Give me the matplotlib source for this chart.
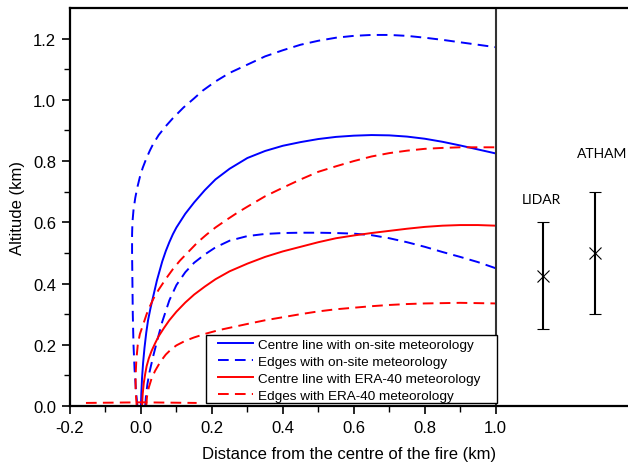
import matplotlib
matplotlib.use("Agg")
import matplotlib.pyplot as plt
from matplotlib.patches import Rectangle

# ---- data ----
onsite_centre_x = [0.0, 0.001, 0.003, 0.006, 0.01, 0.015, 0.02, 0.027, 0.035, 0.045, 0.06, 0.07, 0.08, 0.09, 0.1, 0.125, 0.15,
                   0.18, 0.21, 0.25, 0.3, 0.35, 0.4, 0.45, 0.5, 0.55, 0.6, 0.65, 0.7, 0.75, 0.8, 0.85, 0.9, 0.95, 1.0]
onsite_centre_y = [0.0, 0.04, 0.09, 0.14, 0.19, 0.24, 0.28, 0.32, 0.36, 0.41, 0.472, 0.506, 0.535, 0.561, 0.583, 0.628, 0.665,
                   0.705, 0.74, 0.775, 0.81, 0.833, 0.850, 0.862, 0.872, 0.879, 0.883, 0.885, 0.884, 0.880, 0.873, 0.863,
                   0.851, 0.838, 0.825]

onsite_upper_x = [-0.010, -0.014, -0.018, -0.021, -0.023, -0.024, -0.025, -0.025, -0.024, -0.021, -0.016, -0.010, -0.003,
                  0.005, 0.015, 0.025, 0.034, 0.05, 0.07, 0.09, 0.12, 0.15, 0.174, 0.21, 0.25, 0.3, 0.35, 0.4, 0.45, 0.5,
                  0.55, 0.6, 0.65, 0.7, 0.75, 0.8, 0.85, 0.9, 0.95, 1.0]
onsite_upper_y = [0.0, 0.05, 0.12, 0.2, 0.3, 0.4, 0.5, 0.56, 0.6, 0.64, 0.68, 0.715, 0.748,
                  0.778, 0.808, 0.834, 0.855, 0.885, 0.914, 0.94, 0.975, 1.005, 1.03, 1.06, 1.088, 1.115, 1.142, 1.162, 1.18,
                  1.193, 1.203, 1.209, 1.212, 1.212, 1.209, 1.203, 1.196, 1.188, 1.18, 1.172]

onsite_lower_x = [0.012, 0.014, 0.018, 0.024, 0.035, 0.045, 0.06, 0.08, 0.1, 0.125, 0.15, 0.18, 0.21, 0.25, 0.3, 0.35, 0.4,
                  0.45, 0.5, 0.55, 0.6, 0.65, 0.7, 0.75, 0.8, 0.85, 0.9, 0.95, 1.0]
onsite_lower_y = [0.0, 0.03, 0.07, 0.11, 0.165, 0.21, 0.275, 0.345, 0.395, 0.437, 0.468, 0.495, 0.518, 0.54, 0.555, 0.562, 0.565,
                  0.566, 0.566, 0.565, 0.563, 0.558, 0.548, 0.535, 0.52, 0.503, 0.487, 0.47, 0.45]

era_centre_x = [0.003, 0.005, 0.008, 0.012, 0.016, 0.022, 0.03, 0.04, 0.05, 0.065, 0.08, 0.1, 0.125, 0.15, 0.18, 0.21, 0.25,
                0.3, 0.35, 0.4, 0.45, 0.5, 0.55, 0.6, 0.65, 0.7, 0.75, 0.8, 0.85, 0.9, 0.95, 1.0]
era_centre_y = [0.0, 0.04, 0.075, 0.105, 0.13, 0.155, 0.18, 0.205, 0.228, 0.255, 0.28, 0.308, 0.338, 0.364, 0.39, 0.414, 0.44,
                0.465, 0.487, 0.505, 0.52, 0.535, 0.548, 0.557, 0.565, 0.572, 0.579, 0.585, 0.589, 0.591, 0.591, 0.589]

era_upper_x = [-0.012, -0.015, -0.015, -0.013, -0.009, -0.003, 0.005, 0.016, 0.025, 0.035, 0.05, 0.07, 0.09, 0.11, 0.135,
               0.16, 0.185, 0.21, 0.24, 0.27, 0.3, 0.35, 0.4, 0.45, 0.5, 0.55, 0.6, 0.65, 0.7, 0.75, 0.8, 0.85, 0.9, 0.95, 1.0]
era_upper_y = [0.0, 0.05, 0.1, 0.15, 0.2, 0.235, 0.262, 0.3, 0.325, 0.35, 0.38, 0.415, 0.447, 0.475, 0.505,
               0.535, 0.56, 0.583, 0.607, 0.63, 0.651, 0.685, 0.713, 0.74, 0.765, 0.783, 0.8, 0.815, 0.826, 0.834, 0.84, 0.843,
               0.845, 0.845, 0.845]

era_lower_x = [0.015, 0.017, 0.022, 0.03, 0.04, 0.055, 0.07, 0.085, 0.1, 0.125, 0.15, 0.185, 0.22, 0.26, 0.3, 0.35, 0.4,
               0.45, 0.5, 0.55, 0.6, 0.65, 0.7, 0.75, 0.8, 0.85, 0.9, 0.95, 1.0]
era_lower_y = [0.0, 0.03, 0.06, 0.09, 0.115, 0.145, 0.168, 0.185, 0.198, 0.213, 0.224, 0.237, 0.248, 0.258, 0.268, 0.28, 0.29,
               0.3, 0.309, 0.316, 0.321, 0.326, 0.33, 0.333, 0.335, 0.336, 0.337, 0.336, 0.335]

era_ground_x = [-0.155, 0.0, 0.157]
era_ground_y = [0.010, 0.012, 0.010]

obs_names = ["LIDAR", "ATHAM"]
obs_x = [1.133, 1.28]
obs_y = [0.425, 0.50]
obs_low = [0.25, 0.30]
obs_high = [0.60, 0.70]
obs_label_y = [0.677, 0.827]
obs_label_dx = [-0.005, 0.02]

legend_labels = ["Centre line with on-site meteorology",
                 "Edges with on-site meteorology",
                 "Centre line with ERA-40 meteorology",
                 "Edges with ERA-40 meteorology"]

x_major = [-0.2, 0.0, 0.2, 0.4, 0.6, 0.8, 1.0]
x_minor = [-0.1, 0.1, 0.3, 0.5, 0.7, 0.9]
y_major = [0.0, 0.2, 0.4, 0.6, 0.8, 1.0, 1.2]
y_minor = [0.1, 0.3, 0.5, 0.7, 0.9, 1.1]

# ---- plotting ----
plt.rcParams['font.family'] = ['Liberation Sans', 'DejaVu Sans']
fig = plt.figure(figsize=(6.28, 4.64), dpi=100)
ax = fig.add_axes([70/628, 57/464, 558/628, 398/464])

lw = 1.4
dash = (0, (5.5, 3.2))
blue = '#0000ff'
red = '#ff0000'

l1, = ax.plot(onsite_centre_x, onsite_centre_y, color=blue, lw=lw)
l2, = ax.plot(onsite_upper_x, onsite_upper_y, color=blue, lw=lw, linestyle=dash)
ax.plot(onsite_lower_x, onsite_lower_y, color=blue, lw=lw, linestyle=dash)
l3, = ax.plot(era_centre_x, era_centre_y, color=red, lw=lw)
l4, = ax.plot(era_upper_x, era_upper_y, color=red, lw=lw, linestyle=dash)
ax.plot(era_lower_x, era_lower_y, color=red, lw=lw, linestyle=dash)
ax.plot(era_ground_x, era_ground_y, color=red, lw=lw, linestyle=dash)

# separator at x = 1.0
ax.axvline(1.0, color='#333333', lw=1.5)

# observations
for i in range(len(obs_names)):
    ax.errorbar([obs_x[i]], [obs_y[i]],
                yerr=[[obs_y[i] - obs_low[i]], [obs_high[i] - obs_y[i]]],
                fmt='x', color='black', ecolor='black', elinewidth=1.5,
                capsize=4, capthick=1.5, markersize=8, markeredgewidth=0.8)
    ax.text(obs_x[i] + obs_label_dx[i], obs_label_y[i], obs_names[i],
            ha='center', va='center', fontsize=10, family=['Lato', 'DejaVu Sans'])

ax.set_xlim(-0.2, 1.373)
ax.set_ylim(0.0, 1.3)
ax.set_xticks(x_major)
ax.set_xticklabels([f"{v:.1f}" for v in x_major])
ax.set_xticks(x_minor, minor=True)
ax.set_yticks(y_major)
ax.set_yticklabels([f"{v:.1f}" for v in y_major])
ax.set_yticks(y_minor, minor=True)

ax.tick_params(axis='both', which='major', direction='out', length=6, width=1.2,
               labelsize=12, pad=4)
ax.tick_params(axis='both', which='minor', direction='out', length=4, width=1.0)
for s in ['left', 'bottom', 'top']:
    ax.spines[s].set_linewidth(1.6)
    ax.spines[s].set_color('black')
ax.spines['right'].set_visible(False)

ax.set_xlabel("Distance from the centre of the fire (km)", fontsize=12, labelpad=8)
ax.set_ylabel("Altitude (km)", fontsize=12, labelpad=6)

# legend frame (drawn separately for wider side padding)
ax.add_patch(Rectangle(((206 - 70) / 558, 3 / 398), (497 - 206) / 558, (404 - 336) / 398,
                       transform=ax.transAxes, facecolor='white', edgecolor='black',
                       lw=1.0, zorder=4))
leg = ax.legend([l1, l2, l3, l4], legend_labels, loc='center left',
                bbox_to_anchor=((218 - 70) / 558, (407 - 371) / 398), fontsize=9.7,
                frameon=False, handlelength=2.6, labelspacing=0.33, borderpad=0,
                handletextpad=0.37, borderaxespad=0)
leg.set_zorder(5)

fig.savefig("out.png", dpi=100)
